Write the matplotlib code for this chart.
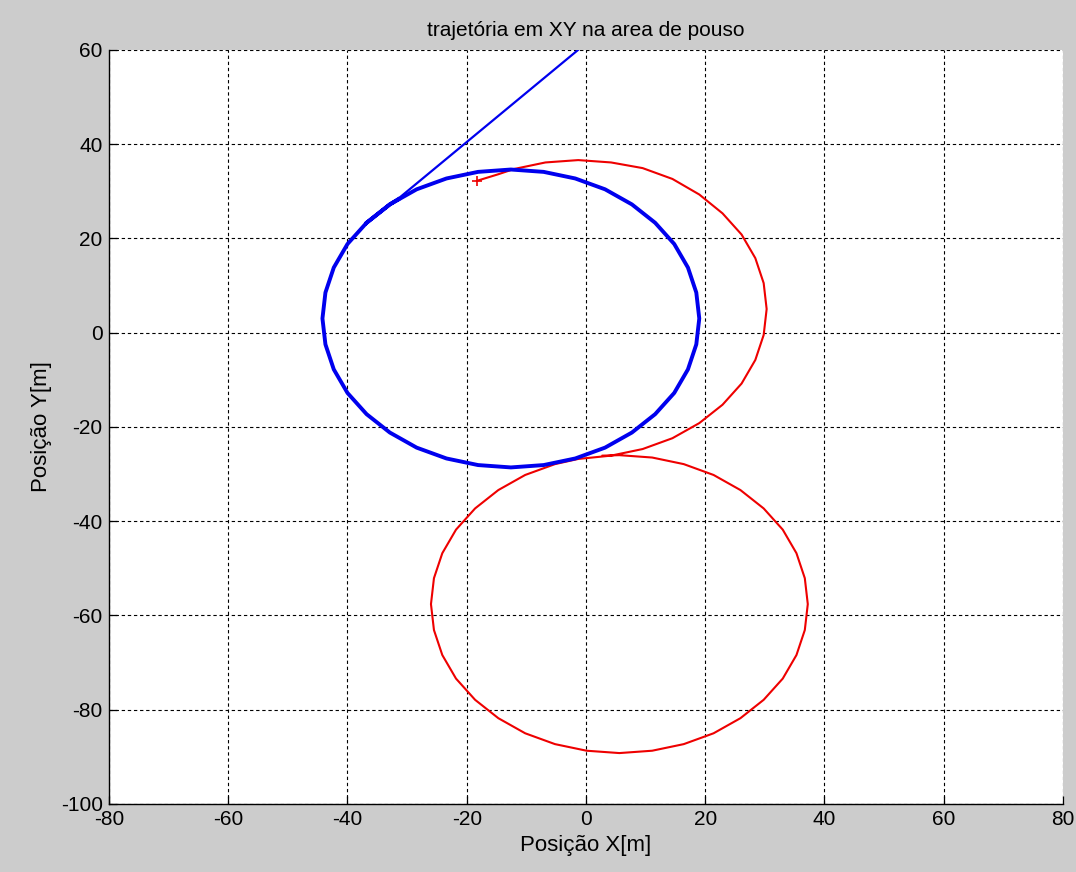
import numpy as np
import matplotlib
matplotlib.use("Agg")
import matplotlib.pyplot as plt

plt.rcParams['font.family'] = ['Liberation Sans', 'DejaVu Sans']
plt.rcParams['axes.unicode_minus'] = False

# trajetoria do veiculo (azul): aproximacao em reta e circulo de espera
aprox_x = [-1.3, -31.5]
aprox_y = [60.0, 28.4]

espera_x = [-31.5, -32.9, -36.8, -40.0, -42.3, -43.7, -44.2, -43.7, -42.3, -40.0,
            -36.8, -32.9, -28.4, -23.4, -18.1, -12.6, -7.1, -1.8, 3.2, 7.7,
            11.6, 14.8, 17.1, 18.5, 19.0, 18.5, 17.1, 14.8, 11.6, 7.7,
            3.2, -1.8, -7.1, -12.6, -18.1, -23.4, -28.4, -32.9, -36.8]
espera_y = [28.3, 27.2, 23.3, 18.8, 13.8, 8.5, 3.0, -2.5, -7.8, -12.8,
            -17.3, -21.2, -24.4, -26.7, -28.1, -28.6, -28.1, -26.7, -24.4, -21.2,
            -17.3, -12.8, -7.8, -2.5, 3.0, 8.5, 13.8, 18.8, 23.3, 27.2,
            30.4, 32.7, 34.1, 34.6, 34.1, 32.7, 30.4, 27.2, 23.3]

# trajetoria de referencia (vermelho) em forma de oito
ref_x = [-18.3, -14.7, -12.1, -6.8, -1.3, 4.2, 9.5, 14.5, 19.0, 22.9,
         26.1, 28.4, 29.8, 30.3, 29.8, 28.4, 26.1, 22.9, 19.0, 14.5,
         9.5, 4.2, -1.3, -5.2, -10.2, -14.7, -18.6, -21.8, -24.1, -25.5,
         -26.0, -25.5, -24.1, -21.8, -18.6, -14.7, -10.2, -5.2, 0.1, 5.6,
         11.1, 16.4, 21.4, 25.9, 29.8, 33.0, 35.3, 36.7, 37.2, 36.7,
         35.3, 33.0, 29.8, 25.9, 21.4, 16.4, 11.1, 5.6, 2.8]
ref_y = [32.2, 33.6, 34.7, 36.1, 36.6, 36.1, 34.9, 32.6, 29.3, 25.3,
         20.8, 15.8, 10.5, 5.0, -0.5, -5.8, -10.8, -15.3, -19.2, -22.4,
         -24.7, -26.1, -26.8, -27.9, -30.2, -33.4, -37.3, -41.8, -46.8, -52.1,
         -57.6, -63.1, -68.4, -73.4, -77.9, -81.8, -85.0, -87.3, -88.7, -89.2,
         -88.7, -87.3, -85.0, -81.8, -77.9, -73.4, -68.4, -63.1, -57.6, -52.1,
         -46.8, -41.8, -37.3, -33.4, -30.2, -27.9, -26.5, -26.0, -26.1]

fig = plt.figure(figsize=(10.76, 8.72), dpi=100, facecolor='#cccccc')
ax = fig.add_axes([0.1013, 0.078, 0.8866, 0.8649])
ax.set_facecolor('white')

ax.plot(ref_x, ref_y, color='#ee0000', linewidth=1.5)
ax.plot(ref_x[0], ref_y[0], '+', color='#ee0000', markersize=7, markeredgewidth=1.2)
ax.plot(aprox_x, aprox_y, color='#0000ee', linewidth=1.6)
ax.plot(espera_x, espera_y, color='#0000ee', linewidth=2.8)

ax.set_xlim(-80, 80)
ax.set_ylim(-100, 60)
ax.set_xticks(np.arange(-80, 81, 20))
ax.set_yticks(np.arange(-100, 61, 20))

ax.grid(True, color='k', linestyle=(0, (3, 2.5)), linewidth=0.8)
ax.set_axisbelow(True)
ax.spines['top'].set_visible(False)
ax.spines['right'].set_visible(False)
ax.spines['left'].set_linewidth(1.0)
ax.spines['bottom'].set_linewidth(1.0)
ax.tick_params(direction='in', length=6, width=0.9, labelsize=15, pad=4.5,
               top=False, right=False)

ax.set_title('trajetória em XY na area de pouso', fontsize=15, pad=10)
ax.set_xlabel('Posição X[m]', fontsize=16, labelpad=4)
ax.set_ylabel('Posição Y[m]', fontsize=16, labelpad=6)

fig.savefig('out.png', dpi=100, facecolor=fig.get_facecolor())
